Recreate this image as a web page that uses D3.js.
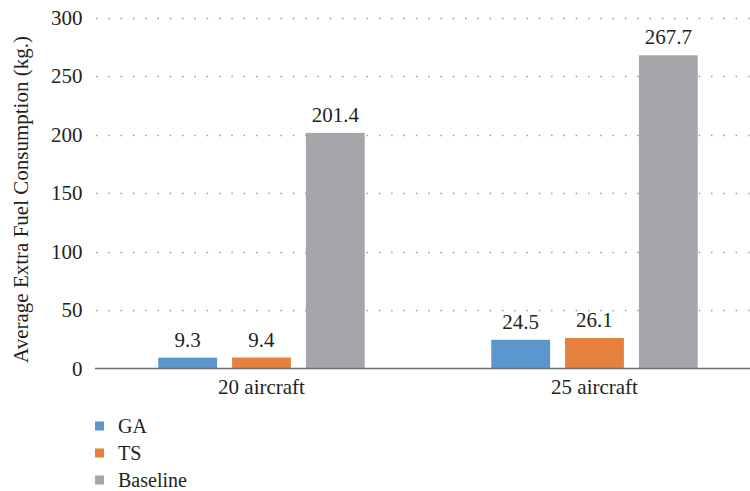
<!DOCTYPE html>
<html>
<head>
<meta charset="utf-8">
<script src="https://cdn.jsdelivr.net/npm/d3@7"></script>
<style>
  html, body { margin: 0; padding: 0; background: #fff; }
  svg { display: block; }
  text { font-family: "Liberation Serif", "Times New Roman", serif; fill: #231f20; }
</style>
</head>
<body>
<svg id="chart" width="750" height="491"></svg>
<script>
const categories = ["20 aircraft", "25 aircraft"];
const seriesNames = ["GA", "TS", "Baseline"];
const gaValues = [9.3, 24.5];
const tsValues = [9.4, 26.1];
const baselineValues = [201.4, 267.7];
const yTicks = [0, 50, 100, 150, 200, 250, 300];
const colors = ["#5b97cc", "#e6803f", "#a5a6a9"];
const yTitle = "Average Extra Fuel Consumption (kg.)";

const valuesBySeries = [gaValues, tsValues, baselineValues];
const data = categories.map((c, i) => ({
  category: c,
  values: seriesNames.map((s, j) => ({ series: s, value: valuesBySeries[j][i], color: colors[j] }))
}));

const svg = d3.select("#chart");
const mLeft = 95, mRight = 761, mTop = 17.5, mBottom = 368.5;
const FS = 21;

const y = d3.scaleLinear().domain([0, 300]).range([mBottom, mTop]);
const x0 = d3.scaleBand().domain(categories).range([mLeft, mRight]).paddingInner(0.38).paddingOuter(0.19);
const x1 = d3.scaleBand().domain(seriesNames).range([0, x0.bandwidth()]).paddingInner(0.203).paddingOuter(0);

// gridlines
svg.append("g").selectAll("line")
  .data(yTicks.filter(t => t > 0))
  .join("line")
  .attr("x1", mLeft + 1).attr("x2", 750)
  .attr("y1", d => Math.round(y(d)) + 0.5).attr("y2", d => Math.round(y(d)) + 0.5)
  .attr("stroke", "#9a9a9a").attr("stroke-width", 1.5)
  .attr("stroke-dasharray", "1.5,10.8");

// y axis labels
const yAxis = d3.axisLeft(y).tickValues(yTicks).tickSize(0).tickPadding(12.5);
const gy = svg.append("g").attr("transform", `translate(${mLeft},0)`).call(yAxis);
gy.attr("font-family", null);
gy.select(".domain").remove();
gy.selectAll("text").attr("font-size", FS).attr("fill", "#231f20");

// bars
const groups = svg.append("g").selectAll("g")
  .data(data).join("g")
  .attr("transform", d => `translate(${x0(d.category)},0)`);
groups.selectAll("rect")
  .data(d => d.values).join("rect")
  .attr("x", d => x1(d.series))
  .attr("width", x1.bandwidth())
  .attr("y", d => y(d.value))
  .attr("height", d => y(0) - y(d.value))
  .attr("fill", d => d.color);
groups.selectAll("text.val")
  .data(d => d.values).join("text")
  .attr("class", "val")
  .attr("x", d => x1(d.series) + x1.bandwidth() / 2)
  .attr("y", d => y(d.value) - 11)
  .attr("text-anchor", "middle")
  .attr("font-size", FS)
  .text(d => d.value.toFixed(1));

// x axis
const xAxis = d3.axisBottom(x0).tickSize(0).tickPadding(11);
const gx = svg.append("g").attr("transform", `translate(0,${mBottom})`).call(xAxis);
gx.attr("font-family", null);
gx.select(".domain").attr("stroke", "#6b6b6b").attr("stroke-width", 1.5)
  .attr("d", `M${mLeft},0H750`);
gx.selectAll("text").attr("font-size", FS).attr("fill", "#231f20");

// y title
svg.append("text")
  .attr("transform", `translate(28,199.5) rotate(-90)`)
  .attr("text-anchor", "middle")
  .attr("font-size", FS)
  .text(yTitle);

// legend
const legend = svg.append("g").selectAll("g")
  .data(seriesNames).join("g")
  .attr("transform", (d, i) => `translate(95,${426 + i * 27})`);
legend.append("rect")
  .attr("x", 0).attr("y", -4.5).attr("width", 9).attr("height", 9)
  .attr("fill", (d, i) => colors[i]);
legend.append("text")
  .attr("x", 23).attr("y", 6.5)
  .attr("font-size", 20)
  .text(d => d);
</script>
</body>
</html>
